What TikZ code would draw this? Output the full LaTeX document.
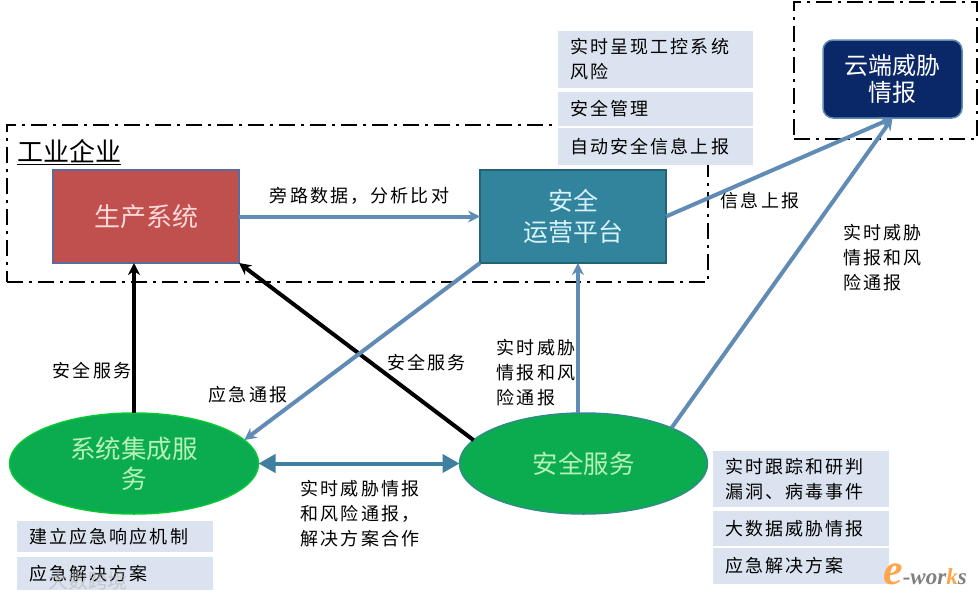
\documentclass[tikz,border=0pt]{standalone}
\usepackage{fontspec}
\setmainfont{Noto Sans CJK SC}
\newfontfamily\cjklabel[LetterSpace=12]{Noto Sans CJK SC}
\newfontfamily\cjkplain{Noto Sans CJK SC}
\newfontfamily\logofont{Liberation Serif}
\usetikzlibrary{shapes.geometric, arrows, arrows.meta, calc, positioning}
\definecolor{ProdRed}{HTML}{C0504D}
\definecolor{ProdEdge}{HTML}{5C6A9C}
\definecolor{PlatTeal}{HTML}{31849B}
\definecolor{CloudNavy}{HTML}{0A2768}
\definecolor{ServGreen}{HTML}{0BAB50}
\definecolor{TagBlue}{HTML}{DAE3EF}
\definecolor{ArrowBlue}{HTML}{5F8BB5}
\definecolor{LinkTeal}{HTML}{3F7F9F}
\tikzstyle{block} = [rectangle, minimum width=186pt, minimum height=93pt, outer sep=0pt, line width=1.5pt, text centered, align=center, font=\cjkplain\fontsize{25}{31}\selectfont]
\tikzstyle{service} = [ellipse, minimum height=101pt, outer sep=0pt, line width=1.5pt, fill=ServGreen, text=green!25!white!95!black, align=center, font=\cjkplain\fontsize{25.5}{30}\selectfont]
\tikzstyle{tag} = [rectangle, fill=TagBlue, inner xsep=12pt, inner ysep=0pt, outer sep=0pt, align=left, font=\cjklabel\fontsize{18}{25}\selectfont]
\tikzstyle{note} = [inner sep=0pt, align=left, font=\cjklabel\fontsize{18}{25}\selectfont]
\tikzstyle{frame} = [rectangle, draw=black, line width=2.5pt, outer sep=0pt, dash pattern=on 16pt off 6pt on 3pt off 6pt]
\tikzstyle{arrow} = [line width=4pt,-{Stealth[length=12pt,width=12pt]},color=ArrowBlue]
\tikzstyle{blackarrow} = [line width=4pt,-{Stealth[length=12pt,width=12pt]},color=black]
\tikzstyle{linkarrow} = [line width=4pt,{Triangle[length=17pt,width=18pt]}-{Triangle[length=17pt,width=18pt]},color=LinkTeal]
\begin{document}
\begin{tikzpicture}[x=1pt, y=-1pt]
		\useasboundingbox (0,0) rectangle (978,597);
		\node (Enterprise) [frame, minimum width=701pt, minimum height=157pt] at (357.5,203.5) {};
		\node (CloudFrame) [frame, minimum width=183pt, minimum height=137pt] at (885.5,70.5) {};
		\node (EnterpriseName) [inner sep=0pt, font=\cjkplain\fontsize{26}{30}\selectfont] at (69,152) {\underline{工业企业}};
		\node (Production) [block, fill=ProdRed, draw=ProdEdge, text=red!15!white, font=\cjkplain\fontsize{26}{31}\selectfont] at (146,216.5) {生产系统};
		\node (Platform) [block, fill=PlatTeal, draw=PlatTeal!75!black, text=cyan!15!white, right = 241pt of Production] {安全\\运营平台};
		\node (CloudIntel) [block, rounded corners=10pt, minimum width=139pt, minimum height=78pt, fill=CloudNavy, draw=ArrowBlue, text=white, font=\cjkplain\fontsize{24}{27}\selectfont] at (892.5,79) {云端威胁\\情报};
		\node (Integration) [service, minimum width=249pt, draw=green!35!ServGreen] at (134,463.5) {系统集成服\\务};
		\node (Security) [service, minimum width=248pt, draw=LinkTeal!70!ServGreen, right = 201pt of Integration] {安全服务};
		\node (TagRisk) [tag, text width=171pt, minimum height=57pt] at (655.5,59.5) {实时呈现工控系统\\风险};
		\node (TagManage) [tag, text width=171pt, minimum height=34pt, below = 4pt of TagRisk] {安全管理};
		\node (TagReport) [tag, text width=171pt, minimum height=37pt, below = 2pt of TagManage] {自动安全信息上报};
		\node (TagResponse) [tag, text width=172pt, minimum height=31pt] at (115,536.5) {建立应急响应机制};
		\node (TagPlanA) [tag, text width=172pt, minimum height=33pt, below = 5pt of TagResponse] {应急解决方案};
		\node (TagTrack) [tag, text width=152pt, minimum height=56pt] at (801,479) {实时跟踪和研判\\漏洞、病毒事件};
		\node (TagData) [tag, text width=152pt, minimum height=35pt, below = 4pt of TagTrack] {大数据威胁情报};
		\node (TagPlanB) [tag, text width=152pt, minimum height=36pt, below = 2pt of TagData] {应急解决方案};
		\node (NoteBypass) [note] at (359.5,196) {旁路数据，分析比对};
		\node (NoteServiceA) [note] at (92,371) {安全服务};
		\node (NoteAlert) [note] at (248,395) {应急通报};
		\node (NoteServiceB) [note] at (426.5,363) {安全服务};
		\node (NoteIntelA) [note] at (536,373) {实时威胁\\情报和风\\险通报};
		\node (NoteCooperate) [note] at (360,514) {实时威胁情报\\和风险通报，\\解决方案合作};
		\node (NoteUpload) [note] at (760,201) {信息上报};
		\node (NoteIntelB) [note] at (882.5,258) {实时威胁\\情报和风\\险通报};
		\draw [arrow] (Production) -- (Platform);
		\draw [blackarrow] (Integration.north) -- (Integration.north |- Production.south);
		\draw [blackarrow] (Security.168) -- (Production.south east);
		\draw [arrow] (Platform.south west) -- (Integration.12);
		\draw [linkarrow] (Integration) -- (Security);
		\draw [arrow] (Security.north -| Platform.-84) -- (Platform.-84);
		\draw [arrow] (Security.22) -- (CloudIntel.south);
		\draw [arrow] (Platform.east) -- (CloudIntel.south);
		\node (MarkWorks) [inner sep=0pt, font=\logofont\bfseries\itshape\fontsize{23}{23}\selectfont, text=gray] at (925,574) {\textcolor{orange!70}{\fontsize{44}{44}\selectfont e}-wor\textcolor{orange!70}{k}s};
		\node (MarkSource) [inner sep=0pt, opacity=0.55, text=white!70!black, font=\cjkplain\fontsize{20}{24}\selectfont] at (88,581) {大数跨境};
\end{tikzpicture}
\end{document}
